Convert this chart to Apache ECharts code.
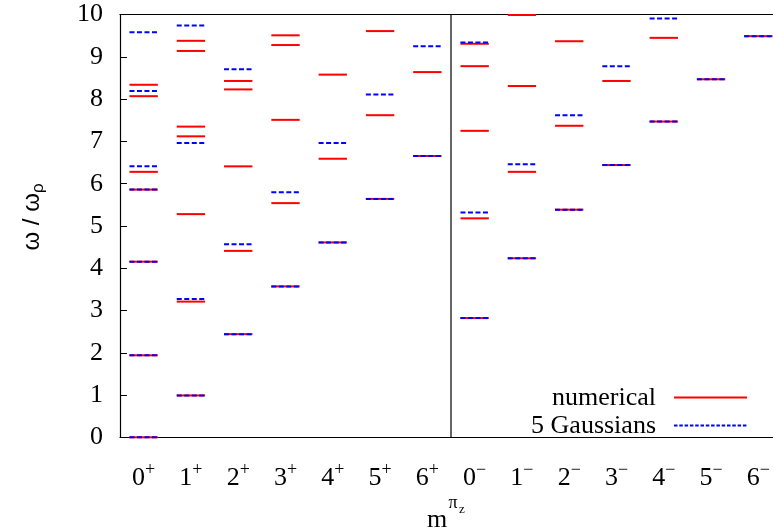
<!DOCTYPE html>
<html>
<head>
<meta charset="utf-8">
<script src="https://cdn.jsdelivr.net/npm/echarts@6/dist/echarts.min.js"></script>
<style>
html,body{margin:0;padding:0;background:#fff;overflow:hidden;width:773px;height:531px;}
#chart{width:790px;height:531px;}
</style>
</head>
<body>
<div id="chart"></div>
<script>
// Categories (m^{pi_z})
const categories = ['0+','1+','2+','3+','4+','5+','6+','0−','1−','2−','3−','4−','5−','6−'];
const yTicks = [0,1,2,3,4,5,6,7,8,9,10];
// Parity divider sits before this category index
const dividerBefore = [7];

// "numerical" levels per category (omega / omega_rho)
const numerical = [
  [0, 1.94, 4.155, 5.86, 6.28, 8.07, 8.34],
  [0.99, 3.21, 5.28, 7.12, 7.35, 9.14, 9.38],
  [2.44, 4.41, 6.41, 8.23, 8.43],
  [3.57, 5.54, 7.51, 9.28, 9.51],
  [4.61, 6.59, 8.58],
  [5.64, 7.62, 9.61],
  [6.655, 8.64],
  [2.82, 5.18, 7.25, 8.78, 9.31],
  [4.235, 6.28, 8.31, 9.99],
  [5.385, 7.37, 9.37],
  [6.44, 8.43],
  [7.47, 9.45],
  [8.47],
  [9.49]
];

// "5 Gaussians" levels per category
const gaussians = [
  [0, 1.94, 4.155, 5.86, 6.41, 8.19, 9.58],
  [0.99, 3.27, 6.96, 9.74],
  [2.44, 4.57, 8.71],
  [3.57, 5.80],
  [4.61, 6.96],
  [5.64, 8.11],
  [6.655, 9.25],
  [2.82, 5.32, 9.34],
  [4.235, 6.46],
  [5.385, 7.62],
  [6.44, 8.78],
  [7.47, 9.91],
  [8.47],
  [9.49]
];

function toPoints(levels) {
  const out = [];
  levels.forEach((arr, i) => arr.forEach(v => out.push([i, v])));
  return out;
}

function levelRenderer(color, dash) {
  return function (params, api) {
    const c = api.coord([api.value(0), api.value(1)]);
    const half = api.size([1, 0])[0] * 0.3;
    return {
      type: 'line',
      shape: { x1: c[0] - half, y1: c[1], x2: c[0] + half, y2: c[1] },
      style: { stroke: color, lineWidth: 2, lineDash: dash }
    };
  };
}

function dividerRenderer(params, api) {
  const idx = api.value(0);
  const band = api.size([1, 0])[0];
  const top = api.coord([idx, yTicks[yTicks.length - 1]]);
  const bot = api.coord([idx, yTicks[0]]);
  const x = top[0] - band / 2;
  return {
    type: 'line',
    shape: { x1: x, y1: top[1], x2: x, y2: bot[1] },
    style: { stroke: '#000', lineWidth: 1.2 }
  };
}

const serif = '"Liberation Serif", "Times New Roman", serif';
const sans = '"Liberation Sans", Arial, sans-serif';

function catLabel(v) {
  return '{a|' + v.slice(0, 1) + '}{s|' + v.slice(1) + '}';
}

const chart = echarts.init(document.getElementById('chart'), null, { renderer: 'canvas' });
chart.setOption({
  backgroundColor: '#fff',
  animation: false,
  grid: { left: 120, top: 14.6, width: 662, height: 422.7 },
  xAxis: [{
    type: 'category',
    data: categories,
    boundaryGap: true,
    axisLine: { lineStyle: { color: '#000', width: 1.2 } },
    axisTick: { inside: true, length: 7, alignWithLabel: true, interval: 0, lineStyle: { color: '#000' } },
    axisLabel: {
      margin: 24,
      interval: 0,
      formatter: catLabel,
      rich: {
        a: { fontFamily: serif, fontSize: 26, color: '#000', lineHeight: 30, verticalAlign: 'bottom' },
        s: { fontFamily: serif, fontSize: 18, color: '#000', lineHeight: 30, verticalAlign: 'top' }
      }
    },
    splitLine: { show: false }
  }, {
    type: 'category',
    data: categories,
    position: 'top',
    boundaryGap: true,
    axisLine: { lineStyle: { color: '#000', width: 1.2 } },
    axisTick: { inside: true, length: 7, alignWithLabel: true, interval: 0, lineStyle: { color: '#000' } },
    axisLabel: { show: false }
  }],
  yAxis: {
    type: 'value',
    min: yTicks[0],
    max: yTicks[yTicks.length - 1],
    interval: 1,
    axisLine: { show: true, lineStyle: { color: '#000', width: 1.2 } },
    axisTick: { show: true, inside: true, length: 7, lineStyle: { color: '#000' } },
    axisLabel: { margin: 17, fontFamily: serif, fontSize: 26, color: '#000' },
    splitLine: { show: false }
  },
  series: [{
    name: 'divider',
    type: 'custom',
    renderItem: dividerRenderer,
    data: dividerBefore.map(i => [i, 0]),
    z: 1
  }, {
    name: 'numerical',
    type: 'custom',
    renderItem: levelRenderer('#ff0000', null),
    data: toPoints(numerical),
    z: 2
  }, {
    name: '5 Gaussians',
    type: 'custom',
    renderItem: levelRenderer('#0000ff', [5, 2.5]),
    data: toPoints(gaussians),
    z: 3
  }],
  graphic: [
    { type: 'text', x: 32, y: 217, rotation: Math.PI / 2, originX: 0, originY: 0,
      style: { text: '{w|ω / ω}{r|ρ}', align: 'center', verticalAlign: 'middle',
        rich: { w: { fontFamily: sans, fontSize: 24, fill: '#000', lineHeight: 30 },
                r: { fontFamily: sans, fontSize: 17, fill: '#000', lineHeight: 30, verticalAlign: 'bottom', padding: [14, 0, 0, 0] } } } },
    { type: 'text', x: 437, y: 520, style: { text: 'm', fontFamily: serif, fontSize: 26, fill: '#000', align: 'center', verticalAlign: 'middle' } },
    { type: 'text', x: 453, y: 503, style: { text: 'π', fontFamily: serif, fontSize: 18, fill: '#000', align: 'center', verticalAlign: 'middle' } },
    { type: 'text', x: 462, y: 510, style: { text: 'z', fontFamily: serif, fontSize: 13, fill: '#000', align: 'center', verticalAlign: 'middle' } },
    { type: 'text', x: 656, y: 398, style: { text: 'numerical', fontFamily: serif, fontSize: 26, fill: '#000', align: 'right', verticalAlign: 'middle' } },
    { type: 'line', shape: { x1: 674, y1: 397.5, x2: 747, y2: 397.5 }, style: { stroke: '#ff0000', lineWidth: 2 } },
    { type: 'text', x: 656, y: 426, style: { text: '5 Gaussians', fontFamily: serif, fontSize: 26, fill: '#000', align: 'right', verticalAlign: 'middle' } },
    { type: 'line', shape: { x1: 674, y1: 425.5, x2: 747, y2: 425.5 }, style: { stroke: '#0000ff', lineWidth: 2, lineDash: [3.5, 1.8] } }
  ]
});
</script>
</body>
</html>
